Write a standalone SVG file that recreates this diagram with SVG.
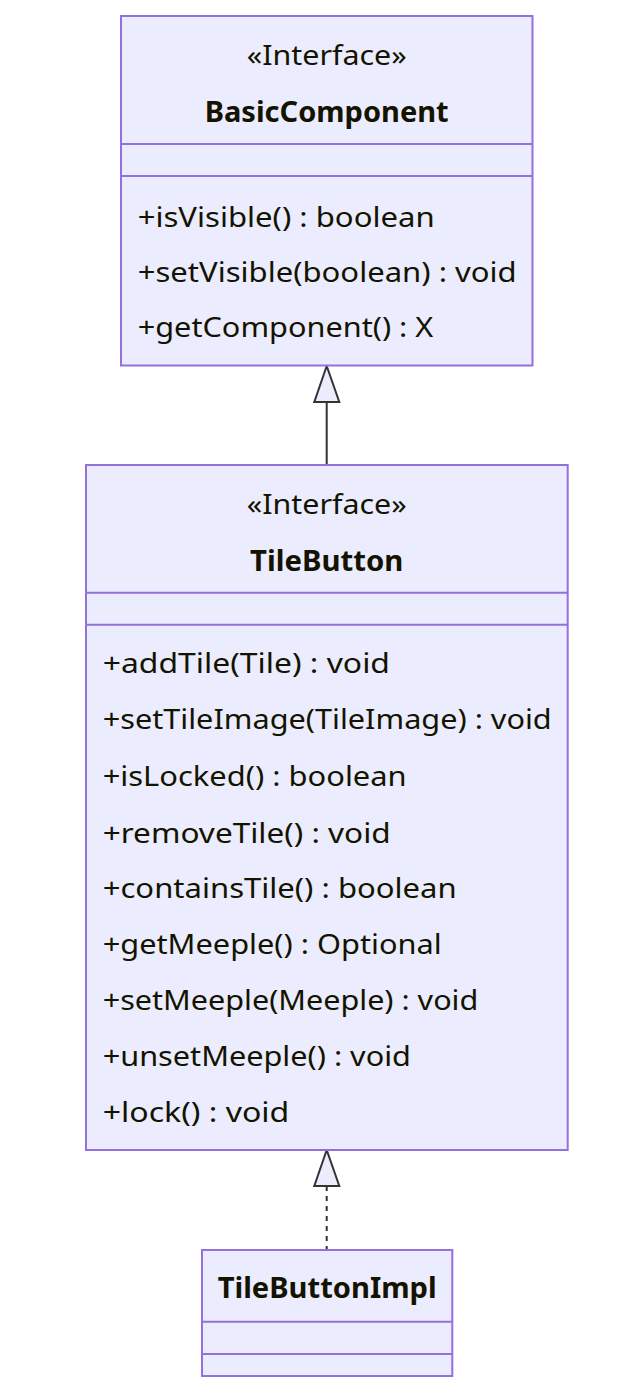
<svg xmlns="http://www.w3.org/2000/svg" width="642" height="1400" viewBox="0 0 642 1400">
<style>
.box{fill:#ECECFF;stroke:#9370DB;stroke-width:2}
.div{stroke:#9370DB;stroke-width:2}
text{font-family:"Noto Sans","Open Sans","DejaVu Sans",sans-serif;fill:#131300;font-size:28px}
.c{text-anchor:middle}
.b{font-weight:bold}
.edge{fill:none;stroke:#333333;stroke-width:2}
.dash{stroke-dasharray:5 5}
.head{fill:#ECECFF;stroke:#333333;stroke-width:2;stroke-linejoin:miter}
</style>
<rect width="642" height="1400" fill="#ffffff"/>
<g id="connectors">
<line class="edge" x1="326.7" y1="402" x2="326.7" y2="465"/>
<polygon class="head" points="326.7,366 314.3,402 339.3,402"/>
<line class="edge dash" x1="326.7" y1="1186" x2="326.7" y2="1250"/>
<polygon class="head" points="326.7,1150 314.3,1186 339.3,1186"/>
</g>
<g id="BasicComponent">
<rect class="box" x="121" y="16" width="411.5" height="349.5"/>
<line class="div" x1="121" y1="144" x2="532.5" y2="144"/>
<line class="div" x1="121" y1="176" x2="532.5" y2="176"/>
<text class="c" x="326.7" y="65" textLength="160" lengthAdjust="spacingAndGlyphs">«Interface»</text>
<text class="c b" x="326.7" y="121.5" textLength="244" lengthAdjust="spacingAndGlyphs">BasicComponent</text>
<text x="137.7" y="226.5" textLength="297" lengthAdjust="spacingAndGlyphs">+isVisible() : boolean</text>
<text x="137.7" y="281.7" textLength="379" lengthAdjust="spacingAndGlyphs">+setVisible(boolean) : void</text>
<text x="137.7" y="337.3" textLength="295.6" lengthAdjust="spacingAndGlyphs">+getComponent() : X</text>
</g>
<g id="TileButton">
<rect class="box" x="86" y="465" width="481.7" height="685"/>
<line class="div" x1="86" y1="592.7" x2="567.7" y2="592.7"/>
<line class="div" x1="86" y1="624.7" x2="567.7" y2="624.7"/>
<text class="c" x="326.7" y="514" textLength="160" lengthAdjust="spacingAndGlyphs">«Interface»</text>
<text class="c b" x="326.7" y="570.5" textLength="153.3" lengthAdjust="spacingAndGlyphs">TileButton</text>
<text x="102.7" y="673.3" textLength="287.3" lengthAdjust="spacingAndGlyphs">+addTile(Tile) : void</text>
<text x="102.7" y="729.3" textLength="449" lengthAdjust="spacingAndGlyphs">+setTileImage(TileImage) : void</text>
<text x="102.7" y="786" textLength="304" lengthAdjust="spacingAndGlyphs">+isLocked() : boolean</text>
<text x="102.7" y="842.7" textLength="288" lengthAdjust="spacingAndGlyphs">+removeTile() : void</text>
<text x="102.7" y="898.3" textLength="354" lengthAdjust="spacingAndGlyphs">+containsTile() : boolean</text>
<text x="102.7" y="954" textLength="339" lengthAdjust="spacingAndGlyphs">+getMeeple() : Optional</text>
<text x="102.7" y="1010" textLength="375.6" lengthAdjust="spacingAndGlyphs">+setMeeple(Meeple) : void</text>
<text x="102.7" y="1065.7" textLength="308.3" lengthAdjust="spacingAndGlyphs">+unsetMeeple() : void</text>
<text x="102.7" y="1121.7" textLength="186.6" lengthAdjust="spacingAndGlyphs">+lock() : void</text>
</g>
<g id="TileButtonImpl">
<rect class="box" x="202" y="1250" width="250.3" height="126"/>
<line class="div" x1="202" y1="1321.7" x2="452.3" y2="1321.7"/>
<line class="div" x1="202" y1="1354" x2="452.3" y2="1354"/>
<text class="c b" x="327.2" y="1298.3" textLength="219" lengthAdjust="spacingAndGlyphs">TileButtonImpl</text>
</g>
</svg>
